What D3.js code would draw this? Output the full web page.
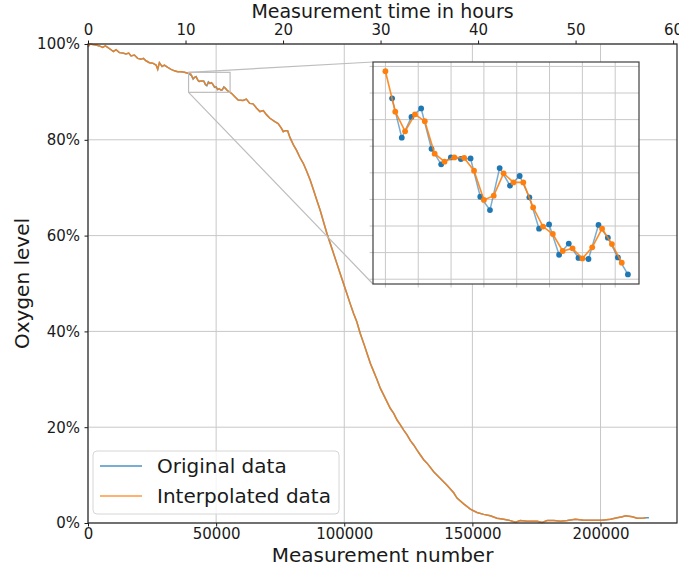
<!DOCTYPE html>
<html>
<head>
<meta charset="utf-8">
<script src="https://cdn.jsdelivr.net/npm/d3@7"></script>
<style>
  body { margin: 0; background: #fff; }
  svg { font-family: "DejaVu Sans", sans-serif; }
</style>
</head>
<body>
<svg id="chart" width="679" height="570"></svg>
<script>
// Overall trend (shared by both series at this scale)
const earlyN  = [0, 780, 1820, 3125, 4430, 5730, 6770, 7680, 8980, 9900, 10940, 12240, 13540, 14840, 15880, 16800, 18100, 19400, 20700, 21600, 22650, 23960, 25260, 26560, 27210, 27860, 28900, 29820, 31120, 32420, 33720, 35020, 36320, 37630, 38930];
const earlyO2 = [99.4, 100.0, 99.9, 99.8, 99.6, 99.3, 99.6, 99.3, 98.8, 98.4, 98.8, 98.2, 98.1, 97.9, 98.1, 97.5, 97.7, 97.0, 96.8, 97.0, 96.5, 96.1, 96.0, 95.6, 94.7, 96.1, 95.3, 95.6, 95.1, 94.7, 94.4, 94.2, 94.2, 94.1, 93.9];

const lateN  = [56000, 57300, 58600, 60500, 61800, 63100, 64400, 65800, 67100, 68400, 69700, 71000, 72900, 74200, 75500, 76200, 76800, 77900, 78800, 80100, 81400, 82700, 84000, 85300, 86700, 88000, 89300, 90600, 91900, 93200, 94500, 95800, 97100, 98400, 99700, 101000, 102300, 103600, 104900, 106200, 107600, 108900, 110200, 111500, 112800, 114100, 115400, 116700, 118000, 119300, 120600, 121900, 123200, 124500, 125800, 127100, 128400, 129700, 131000, 132300, 134900, 137500, 140100, 142700, 144000, 146600, 149200, 151800, 154400, 157000, 159600, 162200, 164800, 166800, 168700, 171300, 175300, 177200, 179200, 181800, 184400, 187000, 190200, 193500, 197400, 200600, 203900, 206500, 208500, 209800, 212400, 214300, 216900, 217600];
const lateO2 = [89.7, 89.0, 88.3, 88.2, 88.5, 87.6, 87.5, 86.6, 85.9, 86.1, 85.2, 84.5, 83.8, 83.4, 82.4, 81.7, 81.9, 81.9, 80.5, 79.0, 77.8, 76.3, 75.1, 73.5, 71.6, 69.5, 67.4, 65.3, 62.9, 60.5, 58.4, 56.3, 54.2, 52.1, 50.0, 47.9, 45.8, 43.8, 42.0, 39.6, 37.5, 35.4, 33.3, 31.6, 29.9, 28.1, 26.7, 25.3, 23.9, 22.9, 21.5, 20.5, 19.4, 18.4, 17.2, 16.3, 15.2, 14.2, 13.2, 12.5, 10.7, 9.3, 7.9, 6.3, 5.2, 4.0, 2.9, 2.2, 1.8, 1.5, 1.0, 0.8, 0.5, 0.15, 0.5, 0.35, 0.35, 0.1, 0.5, 0.5, 0.35, 0.5, 0.8, 0.6, 0.6, 0.6, 0.8, 1.1, 1.3, 1.5, 1.3, 1.0, 1.05, 1.1];

// original data runs a little past the interpolated data
const origTailN  = [218900];
const origTailO2 = [1.1];

// Points in the zoomed window
const zoomOrigN  = [40407, 40997, 41587, 42177, 42808, 43398, 43989, 44599, 45189, 45779, 46370, 46960, 47590, 48181, 48771, 49361, 49972, 50582, 51172, 51762, 52373, 52983, 53553, 54164, 54774];
const zoomOrigO2 = [93.40, 92.66, 93.05, 93.21, 92.45, 92.16, 92.29, 92.26, 92.27, 91.55, 91.30, 92.09, 91.76, 91.94, 91.54, 90.95, 91.03, 90.46, 90.67, 90.40, 90.38, 91.02, 90.78, 90.41, 90.09];
const zoomInterpN  = [40000, 40600, 41200, 41800, 42400, 43000, 43600, 44200, 44800, 45400, 46000, 46600, 47200, 47800, 48400, 49000, 49600, 50200, 50800, 51400, 52000, 52600, 53200, 53800, 54400];
const zoomInterpO2 = [93.91, 93.15, 92.78, 93.10, 92.97, 92.36, 92.21, 92.29, 92.28, 92.04, 91.49, 91.57, 91.99, 91.82, 91.82, 91.35, 90.99, 90.85, 90.53, 90.58, 90.39, 90.60, 90.95, 90.66, 90.31];

const xTicks = [0, 50000, 100000, 150000, 200000];
const yTicks = [0, 20, 40, 60, 80, 100];
const hourTicks = [0, 10, 20, 30, 40, 50, 60];
const zoomXTicks = [40000, 42000, 44000, 46000, 48000, 50000, 52000, 54000];
const zoomYTicks = [90, 90.5, 91, 91.5, 92, 92.5, 93, 93.5, 94];

const blue = "#1f77b4";
const orange = "#ff7f0e";
const gridColor = "#c8c8c8";
const textColor = "#1a1a1a";

const zip = (ns, vs) => ns.map((n, i) => ({ n, v: vs[i] }));
const original = [
  ...zip(earlyN, earlyO2), ...zip(zoomOrigN, zoomOrigO2),
  ...zip(lateN, lateO2), ...zip(origTailN, origTailO2)
];
const interpolated = [
  ...zip(earlyN, earlyO2), ...zip(zoomInterpN, zoomInterpO2), ...zip(lateN, lateO2)
];

const svg = d3.select("#chart");

const plot = { left: 88, right: 677, top: 44, bottom: 523 };

const x = d3.scaleLinear().domain([0, 229845]).range([plot.left, plot.right]);
const hours = d3.scaleLinear().domain([0, 60.4]).range([plot.left, plot.right]);
const y = d3.scaleLinear().domain([0, 100]).range([plot.bottom, plot.top]);

// Grid
const grid = svg.append("g")
    .attr("stroke", gridColor)
    .attr("stroke-width", 1);
grid.selectAll(".vgrid")
  .data(xTicks)
  .join("line")
    .attr("x1", d => x(d)).attr("x2", d => x(d))
    .attr("y1", plot.top).attr("y2", plot.bottom);
grid.selectAll(".hgrid")
  .data(yTicks)
  .join("line")
    .attr("x1", plot.left).attr("x2", plot.right)
    .attr("y1", d => y(d)).attr("y2", d => y(d));

// Main lines
const mainLine = d3.line().x(d => x(d.n)).y(d => y(d.v));
svg.append("path")
    .datum(original)
    .attr("fill", "none")
    .attr("stroke", blue)
    .attr("stroke-opacity", 0.75)
    .attr("stroke-width", 1.5)
    .attr("d", mainLine);
svg.append("path")
    .datum(interpolated)
    .attr("fill", "none")
    .attr("stroke", orange)
    .attr("stroke-opacity", 0.85)
    .attr("stroke-width", 1.5)
    .attr("d", mainLine);

// Axes
const styleAxis = g => {
  g.select(".domain").remove();
  g.selectAll(".tick line").attr("stroke", textColor);
  g.selectAll(".tick text")
    .attr("fill", textColor)
    .attr("font-size", 15)
    .attr("font-family", "DejaVu Sans");
};

svg.append("g")
    .attr("transform", `translate(0,${plot.bottom})`)
    .call(d3.axisBottom(x).tickValues(xTicks).tickFormat(d3.format("d")).tickSize(3.5).tickPadding(2))
    .call(styleAxis);

svg.append("g")
    .attr("transform", `translate(${plot.left},0)`)
    .call(d3.axisLeft(y).tickValues(yTicks).tickFormat(d => d + "%").tickSize(3.5).tickPadding(4.5))
    .call(styleAxis);

svg.append("g")
    .attr("transform", `translate(0,${plot.top})`)
    .call(d3.axisTop(hours).tickValues(hourTicks).tickSize(3.5).tickPadding(5.5))
    .call(styleAxis);

// Frame
svg.append("rect")
    .attr("x", plot.left)
    .attr("y", plot.top)
    .attr("width", plot.right - plot.left)
    .attr("height", plot.bottom - plot.top)
    .attr("fill", "none")
    .attr("stroke", "#262626")
    .attr("stroke-width", 1.2);

// Axis titles
svg.append("text")
    .attr("x", (plot.left + plot.right) / 2)
    .attr("y", 562)
    .attr("text-anchor", "middle")
    .attr("font-size", 20)
    .attr("fill", textColor)
    .text("Measurement number");

svg.append("text")
    .attr("x", (plot.left + plot.right) / 2)
    .attr("y", 18)
    .attr("text-anchor", "middle")
    .attr("font-size", 19)
    .attr("fill", textColor)
    .text("Measurement time in hours");

svg.append("text")
    .attr("transform", `translate(29,${(plot.top + plot.bottom) / 2}) rotate(-90)`)
    .attr("text-anchor", "middle")
    .attr("font-size", 20)
    .attr("fill", textColor)
    .text("Oxygen level");

// Inset
const inset = { left: 373, right: 639, top: 62, bottom: 284 };
const ix = d3.scaleLinear().domain([39244, 55450]).range([inset.left, inset.right]);
const iy = d3.scaleLinear().domain([89.91, 94.083]).range([inset.bottom, inset.top]);

// zoom rectangle and connectors
const marker = svg.append("g")
    .attr("fill", "none")
    .attr("stroke", "#bdbdbd")
    .attr("stroke-width", 1.2);
marker.append("rect")
    .attr("x", x(ix.domain()[0]))
    .attr("y", y(iy.domain()[1]))
    .attr("width", x(ix.domain()[1]) - x(ix.domain()[0]))
    .attr("height", y(iy.domain()[0]) - y(iy.domain()[1]));
marker.append("line")
    .attr("x1", x(ix.domain()[0])).attr("y1", y(iy.domain()[1]))
    .attr("x2", inset.left).attr("y2", inset.top);
marker.append("line")
    .attr("x1", x(ix.domain()[0])).attr("y1", y(iy.domain()[0]))
    .attr("x2", inset.left).attr("y2", inset.bottom);

const ins = svg.append("g");
ins.append("rect")
    .attr("x", inset.left)
    .attr("y", inset.top)
    .attr("width", inset.right - inset.left)
    .attr("height", inset.bottom - inset.top)
    .attr("fill", "#fff");

svg.append("clipPath")
    .attr("id", "inset-clip")
  .append("rect")
    .attr("x", inset.left)
    .attr("y", inset.top)
    .attr("width", inset.right - inset.left)
    .attr("height", inset.bottom - inset.top);

const insGrid = ins.append("g")
    .attr("stroke", gridColor)
    .attr("stroke-width", 1);
insGrid.selectAll(".v")
  .data(zoomXTicks)
  .join("line")
    .attr("x1", d => ix(d)).attr("x2", d => ix(d))
    .attr("y1", inset.top).attr("y2", inset.bottom + 3.5);
insGrid.selectAll(".h")
  .data(zoomYTicks)
  .join("line")
    .attr("x1", inset.left - 3.5).attr("x2", inset.right)
    .attr("y1", d => iy(d)).attr("y2", d => iy(d));

const insData = ins.append("g").attr("clip-path", "url(#inset-clip)");
const insetLine = d3.line().x(d => ix(d.n)).y(d => iy(d.v));
const insetOrig = zip(zoomOrigN, zoomOrigO2);
const insetInterp = zip(zoomInterpN, zoomInterpO2);

insData.append("path")
    .datum(insetOrig)
    .attr("fill", "none")
    .attr("stroke", blue)
    .attr("stroke-opacity", 0.6)
    .attr("stroke-width", 1.5)
    .attr("d", insetLine);
insData.selectAll(".orig-dot")
  .data(insetOrig)
  .join("circle")
    .attr("cx", d => ix(d.n))
    .attr("cy", d => iy(d.v))
    .attr("r", 2.9)
    .attr("fill", blue);

insData.append("path")
    .datum(insetInterp)
    .attr("fill", "none")
    .attr("stroke", orange)
    .attr("stroke-opacity", 0.9)
    .attr("stroke-width", 1.6)
    .attr("d", insetLine);
insData.selectAll(".interp-dot")
  .data(insetInterp)
  .join("circle")
    .attr("cx", d => ix(d.n))
    .attr("cy", d => iy(d.v))
    .attr("r", 2.9)
    .attr("fill", orange);

ins.append("rect")
    .attr("x", inset.left)
    .attr("y", inset.top)
    .attr("width", inset.right - inset.left)
    .attr("height", inset.bottom - inset.top)
    .attr("fill", "none")
    .attr("stroke", "#404040")
    .attr("stroke-width", 1.2);

// Legend
const legendItems = [
  { label: "Original data", color: blue },
  { label: "Interpolated data", color: orange }
];
const legend = svg.append("g").attr("transform", "translate(93,451)");
legend.append("rect")
    .attr("width", 246)
    .attr("height", 63)
    .attr("rx", 4)
    .attr("fill", "#fff")
    .attr("fill-opacity", 0.8)
    .attr("stroke", "#d6d6d6");
const items = legend.selectAll(".item")
  .data(legendItems)
  .join("g")
    .attr("transform", (d, i) => `translate(0,${15 + i * 30})`);
items.append("line")
    .attr("x1", 7).attr("x2", 49)
    .attr("stroke", d => d.color)
    .attr("stroke-opacity", 0.6)
    .attr("stroke-width", 2);
items.append("text")
    .attr("x", 64)
    .attr("y", 7)
    .attr("font-size", 20)
    .attr("fill", textColor)
    .text(d => d.label);
</script>
</body>
</html>
